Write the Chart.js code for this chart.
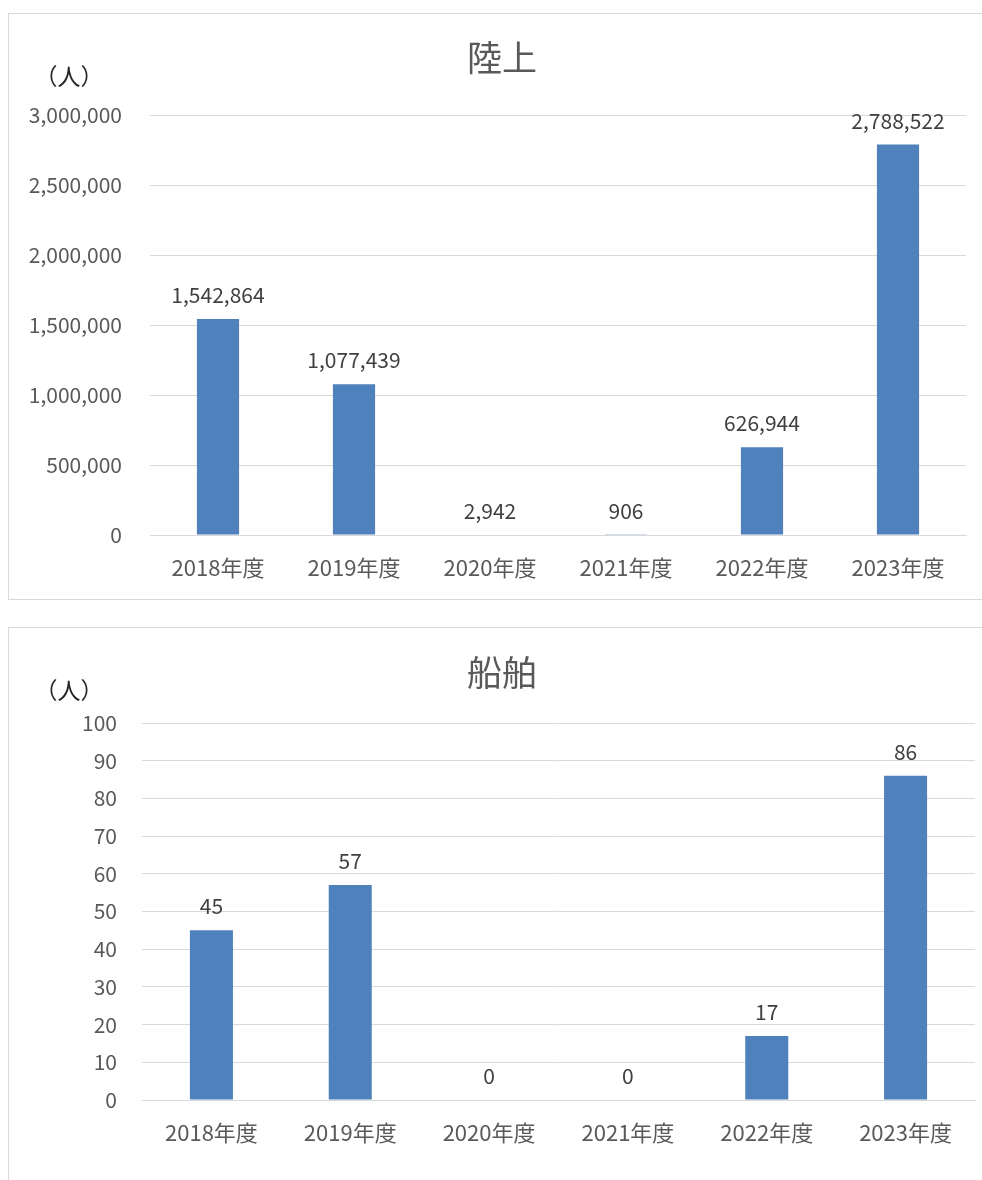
<!DOCTYPE html>
<html>
<head>
<meta charset="utf-8">
<script src="https://cdn.jsdelivr.net/npm/chart.js@4.4.1/dist/chart.umd.min.js"></script>
<style>
    body { margin: 0; background: #fff; width: 982px; height: 1180px; overflow: hidden; position: relative; }
    .box { position: absolute; border: 1px solid #d9d9d9; box-sizing: border-box; }
    .wrap { position: absolute; left: 0; width: 982px; }
</style>
</head>
<body>
<div class="box" style="left:8px; top:13px; width:990px; height:587px;"></div>
<div class="box" style="left:8px; top:627px; width:990px; height:600px;"></div>
<div class="wrap" style="top:0; height:600px;"><canvas id="landChart"></canvas></div>
<div class="wrap" style="top:600px; height:580px;"><canvas id="shipChart"></canvas></div>
<script>
const years = ['2018年度', '2019年度', '2020年度', '2021年度', '2022年度', '2023年度'];
const landValues = [1542864, 1077439, 2942, 906, 626944, 2788522];
const shipValues = [45, 57, 0, 0, 17, 86];

const fontFamily = "'Noto Sans CJK JP', 'Noto Sans', sans-serif";
const barColor = '#4f81bd';

// draws value labels above the bars, the title and the unit label
const extrasPlugin = {
    id: 'extras',
    afterDatasetsDraw(chart, args, opts) {
        const ctx = chart.ctx;
        ctx.save();
        ctx.font = '21px ' + fontFamily;
        ctx.fillStyle = '#404040';
        ctx.textAlign = 'center';
        ctx.textBaseline = 'middle';
        const meta = chart.getDatasetMeta(0);
        meta.data.forEach((bar, i) => {
            const v = chart.data.datasets[0].data[i];
            ctx.fillText(v.toLocaleString('en-US'), bar.x, bar.y - 24);
        });

        ctx.font = '35px ' + fontFamily;
        ctx.fillStyle = '#595959';
        ctx.fillText(opts.title, 502, opts.titleY);

        ctx.font = '23px ' + fontFamily;
        ctx.fillStyle = '#262626';
        ctx.fillText('（人）', 69, opts.unitY);
        ctx.restore();
    }
};

function renderChart(id, values, opts) {
    const ctx = document.getElementById(id).getContext('2d');
    return new Chart(ctx, {
        type: 'bar',
        data: {
            labels: years,
            datasets: [{
                data: values,
                backgroundColor: barColor,
                borderWidth: 0,
                categoryPercentage: 1,
                barPercentage: 0.31
            }]
        },
        options: {
            responsive: true,
            maintainAspectRatio: false,
            animation: false,
            layout: {
                padding: { left: 0, right: opts.right, top: opts.top, bottom: 0 }
            },
            plugins: {
                legend: { display: false },
                title: { display: false },
                tooltip: { enabled: false },
                extras: { title: opts.title, titleY: opts.titleY, unitY: opts.unitY }
            },
            scales: {
                x: {
                    grid: { display: false, drawTicks: false },
                    border: { color: '#d9d9d9', width: 1 },
                    ticks: {
                        padding: opts.xPad,
                        color: '#595959',
                        font: { size: 22, family: fontFamily },
                        maxRotation: 0
                    },
                    afterFit(scale) { scale.height = opts.xHeight; }
                },
                y: {
                    min: 0,
                    max: opts.max,
                    grid: { color: '#d9d9d9', drawTicks: false },
                    border: { display: false },
                    ticks: {
                        stepSize: opts.step,
                        padding: opts.yPad,
                        color: '#595959',
                        font: { size: 21, family: fontFamily },
                        callback: v => v.toLocaleString('en-US')
                    },
                    afterFit(scale) { scale.width = opts.yWidth; }
                }
            }
        },
        plugins: [extrasPlugin]
    });
}

renderChart('landChart', landValues, {
    title: '陸上', titleY: 58, unitY: 76,
    max: 3000000, step: 500000,
    top: 115, right: 16, xHeight: 65, xPad: 19, yWidth: 150, yPad: 28
});

renderChart('shipChart', shipValues, {
    title: '船舶', titleY: 73, unitY: 90,
    max: 100, step: 10,
    top: 123, right: 7, xHeight: 80, xPad: 19, yWidth: 142, yPad: 25
});
</script>
</body>
</html>
